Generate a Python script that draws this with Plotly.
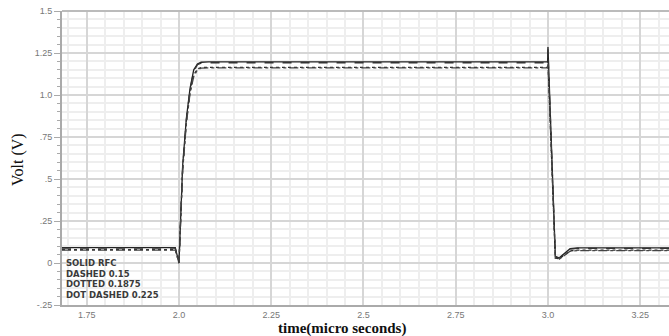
import plotly.graph_objects as go

# time (micro seconds) sample points
t_solid = [1.683, 1.99, 2.0, 2.005, 2.01, 2.02, 2.03, 2.04, 2.05, 2.06, 2.08, 2.2, 2.5, 2.8, 2.999, 3.0, 3.01, 3.02, 3.03, 3.045, 3.06, 3.08, 3.15, 3.33]
v_solid = [0.092, 0.092, 0.0, 0.28, 0.58, 0.86, 1.04, 1.15, 1.185, 1.195, 1.197, 1.197, 1.197, 1.197, 1.197, 1.285, 0.62, 0.04, 0.03, 0.06, 0.085, 0.09, 0.09, 0.09]

t_dashed = [1.683, 1.99, 2.0, 2.005, 2.01, 2.02, 2.03, 2.04, 2.05, 2.06, 2.08, 2.2, 2.5, 2.8, 2.999, 3.0, 3.01, 3.02, 3.03, 3.045, 3.06, 3.08, 3.15, 3.33]
v_dashed = [0.088, 0.088, 0.0, 0.27, 0.57, 0.85, 1.03, 1.14, 1.18, 1.19, 1.192, 1.192, 1.192, 1.192, 1.192, 1.27, 0.6, 0.035, 0.028, 0.055, 0.082, 0.087, 0.087, 0.087]

t_dotted = [1.683, 1.99, 2.0, 2.005, 2.01, 2.02, 2.03, 2.04, 2.05, 2.06, 2.08, 2.2, 2.5, 2.8, 2.999, 3.0, 3.01, 3.02, 3.03, 3.045, 3.06, 3.08, 3.15, 3.33]
v_dotted = [0.08, 0.08, 0.0, 0.26, 0.56, 0.84, 1.02, 1.12, 1.155, 1.163, 1.165, 1.165, 1.165, 1.165, 1.165, 1.2, 0.58, 0.03, 0.025, 0.05, 0.072, 0.077, 0.077, 0.077]

t_dotdash = [1.683, 1.99, 2.0, 2.005, 2.01, 2.02, 2.03, 2.04, 2.05, 2.06, 2.08, 2.2, 2.5, 2.8, 2.999, 3.0, 3.01, 3.02, 3.03, 3.045, 3.06, 3.08, 3.15, 3.33]
v_dotdash = [0.077, 0.077, 0.0, 0.25, 0.55, 0.83, 1.01, 1.11, 1.15, 1.16, 1.162, 1.162, 1.162, 1.162, 1.162, 1.19, 0.57, 0.028, 0.022, 0.048, 0.07, 0.074, 0.074, 0.074]

legend_lines = ["SOLID RFC", "DASHED 0.15", "DOTTED 0.1875", "DOT DASHED 0.225"]

x_ticks = [1.75, 2.0, 2.25, 2.5, 2.75, 3.0, 3.25]
x_tick_labels = ["1.75", "2.0", "2.25", "2.5", "2.75", "3.0", "3.25"]
y_ticks = [-0.25, 0, 0.25, 0.5, 0.75, 1.0, 1.25, 1.5]
y_tick_labels = ["-.25", "0", ".25", ".5", ".75", "1.0", "1.25", "1.5"]

fig = go.Figure()
series = [
    (t_solid, v_solid, "solid", "#222222"),
    (t_dashed, v_dashed, "dash", "#333333"),
    (t_dotted, v_dotted, "dot", "#2a2a2a"),
    (t_dotdash, v_dotdash, "dashdot", "#444444"),
]
for t, v, dash, col in series:
    fig.add_trace(go.Scatter(x=t, y=v, mode="lines",
                             line=dict(color=col, width=1.3, dash=dash),
                             showlegend=False, hoverinfo="skip"))

fig.update_layout(
    width=669, height=336,
    margin=dict(l=62, r=0, t=11, b=31, autoexpand=False),
    paper_bgcolor="white", plot_bgcolor="white",
    font=dict(family="Liberation Sans", color="#666666"),
)
fig.update_xaxes(
    range=[1.683, 3.328], tickvals=x_ticks, ticktext=x_tick_labels,
    tickfont=dict(size=9, color="#777777"), automargin=False,
    showgrid=True, gridcolor="#d6d6d6", gridwidth=2,
    minor=dict(dtick=0.05, tick0=0, showgrid=True, gridcolor="#eeeeee", gridwidth=1.5),
    showline=True, linecolor="#aaaaaa", linewidth=2, mirror=False,
    zeroline=False, ticks="", ticklen=2,
)
fig.update_yaxes(
    range=[-0.25, 1.5], tickvals=y_ticks, ticktext=y_tick_labels,
    tickfont=dict(size=9, color="#777777"), automargin=False,
    showgrid=True, gridcolor="#d6d6d6", gridwidth=1.5,
    minor=dict(dtick=0.05, tick0=0, showgrid=True, gridcolor="#eeeeee", gridwidth=1.5,
               ticks="outside", ticklen=3, tickcolor="#aaaaaa"),
    showline=True, linecolor="#aaaaaa", linewidth=2,
    zeroline=False, ticks="outside", ticklen=6, tickcolor="#aaaaaa",
)
# top border line
fig.add_shape(type="line", xref="paper", yref="paper", x0=0, x1=1, y0=1, y1=1,
              line=dict(color="#bbbbbb", width=2))

# axis titles
fig.add_annotation(xref="paper", yref="paper", x=(342 - 62) / 607, y=-31 / 294,
                   xanchor="center", yanchor="middle", yshift=8, showarrow=False,
                   text="<b>time(micro seconds)</b>",
                   font=dict(family="Liberation Serif", size=15, color="#111111"))
fig.add_annotation(xref="paper", yref="paper", x=(18 - 62) / 607, y=(305 - 160) / 294,
                   xanchor="center", yanchor="middle", textangle=-90, showarrow=False,
                   text="Volt (V)",
                   font=dict(family="Liberation Serif", size=16, color="#111111"))

for i, txt in enumerate(legend_lines):
    fig.add_annotation(xref="paper", yref="paper", x=0.004, y=(305 - 263 - i * 10.5) / 294,
                       xanchor="left", yanchor="middle", showarrow=False,
                       text="<b>" + txt + "</b>",
                       font=dict(family="DejaVu Sans", size=8.5, color="#3a3a3a"))

fig.write_html("out.html", config={"displayModeBar": False},
               post_script="document.body.style.margin='0';document.body.style.overflow='hidden';")
